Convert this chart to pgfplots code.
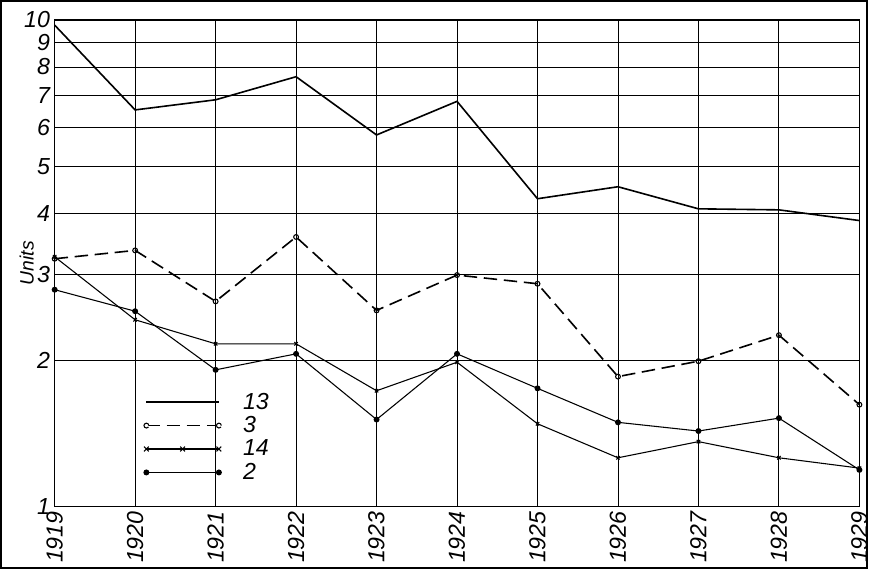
\documentclass[border=0pt]{standalone}
\usepackage{pgfplots}
\pgfplotsset{compat=1.18}
\usepackage{fontspec}
\setmainfont{Liberation Sans}
\begin{document}
\begin{tikzpicture}
\begin{axis}[
  name=ax, scale only axis, width=600pt, height=363pt,
  ymode=log, ymin=1, ymax=10, xmin=1919, xmax=1929,
  xtick={1919,...,1929},
  xticklabels={1919,1920,1921,1922,1923,1924,1925,1926,1927,1928,1929},
  x tick label style={rotate=90, anchor=east, font=\itshape\LARGE},
  ytick={1,2,3,4,5,6,7,8,9,10},
  yticklabels={1,2,3,4,5,6,7,8,9,10},
  y tick label style={font=\itshape\LARGE},
  minor ytick={},
  grid=major, grid style={black, line width=0.6pt},
  axis line style={line width=1.2pt}, tick style={draw=none},
  ylabel={\itshape Units}, ylabel style={yshift=-14pt, font=\Large},
  /pgf/number format/assume math mode=true,
  legend style={at={(0.105,0.04)}, anchor=south west, draw=none, fill=none, font=\itshape\LARGE, row sep=0pt},
  legend cell align=left,
]
\addplot[black, line width=1.2pt, legend image code/.code={\draw[black,line width=1.2pt] (0,0)--(1.9cm,0);}] coordinates {(1919,9.75)(1920,6.53)(1921,6.85)(1922,7.64)(1923,5.8)(1924,6.8)(1925,4.29)(1926,4.54)(1927,4.09)(1928,4.07)(1929,3.87)};
\addlegendentry{\hspace{0.8em}13}
\addplot[black, line width=1.2pt, dash pattern=on 10pt off 5pt, mark=o, mark options={solid, fill=white, line width=0.8pt}, mark size=1.8pt,
  legend image code/.code={\draw[black,line width=1.2pt,dash pattern=on 10pt off 5pt] (0,0)--(1.9cm,0); \draw[black,fill=white,line width=0.8pt] (0,0) circle (1.8pt) (1.9cm,0) circle (1.8pt);}] coordinates {(1919,3.23)(1920,3.36)(1921,2.64)(1922,3.58)(1923,2.53)(1924,2.99)(1925,2.87)(1926,1.85)(1927,1.99)(1928,2.25)(1929,1.62)};
\addlegendentry{\hspace{0.8em}3}
\addplot[black, line width=0.8pt, mark=x, mark size=1.8pt,
  legend image code/.code={\draw[black,line width=0.8pt] (0,0)--(1.9cm,0); \foreach \p in {0,0.95,1.9}{\draw[black,line width=0.8pt] (\p cm-1.8pt,-1.8pt)--(\p cm+1.8pt,1.8pt) (\p cm-1.8pt,1.8pt)--(\p cm+1.8pt,-1.8pt);}}] coordinates {(1919,3.26)(1920,2.42)(1921,2.16)(1922,2.16)(1923,1.73)(1924,1.98)(1925,1.48)(1926,1.26)(1927,1.36)(1928,1.26)(1929,1.20)};
\addlegendentry{\hspace{0.8em}14}
\addplot[black, line width=0.8pt, mark=*, mark size=1.8pt,
  legend image code/.code={\draw[black,line width=0.8pt] (0,0)--(1.9cm,0); \fill[black] (0,0) circle (1.8pt) (1.9cm,0) circle (1.8pt);}] coordinates {(1919,2.79)(1920,2.52)(1921,1.91)(1922,2.06)(1923,1.51)(1924,2.06)(1925,1.75)(1926,1.49)(1927,1.43)(1928,1.52)(1929,1.19)};
\addlegendentry{\hspace{0.8em}2}
\end{axis}
\draw[line width=1.5pt] ([xshift=-40pt,yshift=14pt]ax.north west) rectangle ([xshift=6pt,yshift=-46pt]ax.south east);
\end{tikzpicture}
\end{document}
